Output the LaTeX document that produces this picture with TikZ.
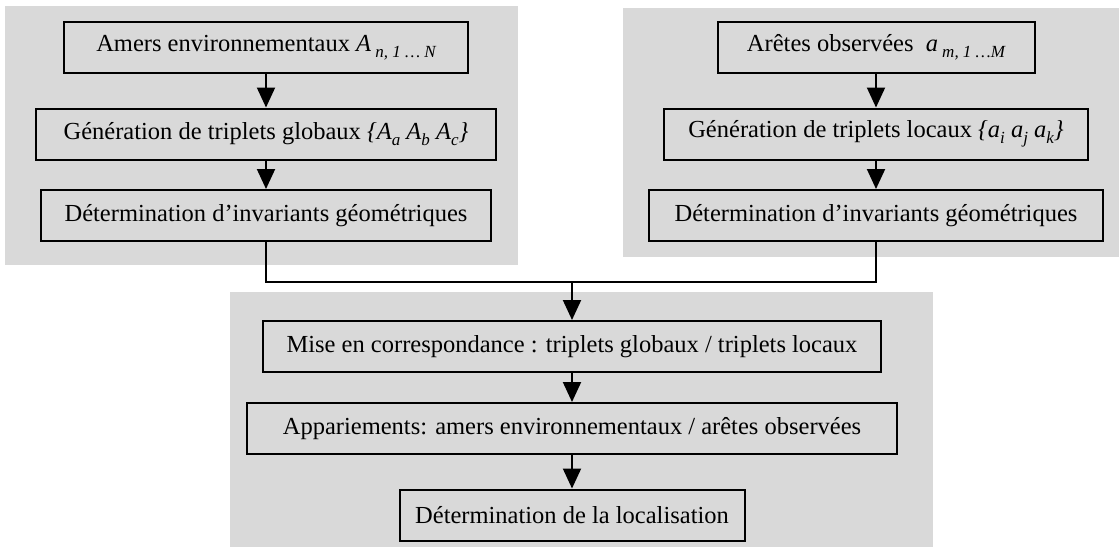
\documentclass[tikz,border=0pt]{standalone}
\usepackage{fontspec}
\setmainfont{Liberation Serif}
\usetikzlibrary{positioning,arrows.meta}
\definecolor{pshade}{HTML}{D9D9D9}
\newcommand{\lowsub}[1]{\raisebox{-0.55ex}{\fontsize{17}{17}\selectfont\itshape #1}}

\begin{document}
\begin{tikzpicture}[x=1pt, y=-1pt, line width=2pt,
  font=\fontsize{24.5}{28}\selectfont,
  box/.style={draw=black, minimum height=51pt, inner xsep=0pt, inner ysep=0pt},
  arr/.style={-{Triangle[length=20pt,width=18pt]}},
  panel/.style={fill=pshade, draw=none}]
  \useasboundingbox (0,0) rectangle (1119,547);
  % --- shaded backgrounds
  \fill[panel] (5,6)     rectangle (518,265);
  \fill[panel] (623,8)   rectangle (1119,257);
  \fill[panel] (230,292) rectangle (933,547);
  % --- global landmarks (left column)
  \node[box, minimum width=404pt] (amers) at (266,47.5)
    {Amers environnementaux \textit{A}\,\lowsub{n, 1 \dots\ N}};
  \node[box, minimum width=460pt] (genG)  at (266,134)
    {Génération de triplets globaux \textit{\{A\lowsub{a} A\lowsub{b} A\lowsub{c}\}}};
  \node[box, minimum width=450pt] (invG)  at (266,215.5)
    {Détermination d’invariants géométriques};
  % --- observed edges (right column)
  \node[box, minimum width=317pt] (aretes) at (876,47.5)
    {Arêtes observées \ \textit{a}\,\lowsub{m, 1 \dots M}};
  \node[box, minimum width=424pt] (genL)   at (876,134)
    {Génération de triplets locaux \textit{\{a\lowsub{i} a\lowsub{j} a\lowsub{k}\}}};
  \node[box, minimum width=454pt] (invL)   at (876,215.5)
    {Détermination d’invariants géométriques};
  % --- matching and localisation
  \coordinate (jn) at (572,282);
  \node[box, minimum width=618pt] (mise)  at (572,346.5)
    {Mise en correspondance : triplets globaux / triplets locaux};
  \node[box, minimum width=650pt] (appar) at (572,428.5)
    {Appariements: amers environnementaux / arêtes observées};
  \node[box, minimum width=345pt] (loc)   at (572,515)
    {Détermination de la localisation};
  \draw[arr] (amers)  -- (genG);
  \draw[arr] (genG)   -- (invG);
  \draw[arr] (aretes) -- (genL);
  \draw[arr] (genL)   -- (invL);
  \draw (invG.south) -- (invG.south |- jn) -- (invL.south |- jn) -- (invL.south);
  \draw[arr] (jn)    -- (mise);
  \draw[arr] (mise)  -- (appar);
  \draw[arr] (appar) -- (loc);
\end{tikzpicture}
\end{document}
